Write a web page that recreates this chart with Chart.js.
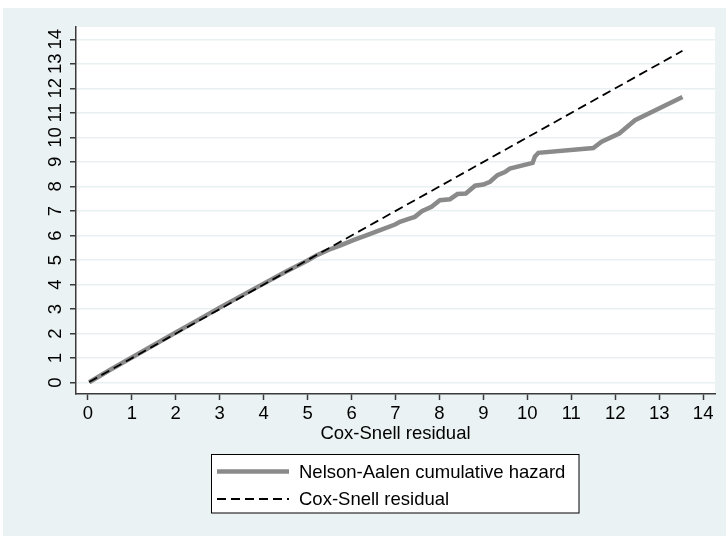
<!DOCTYPE html>
<html>
<head>
<meta charset="utf-8">
<script src="https://cdn.jsdelivr.net/npm/chart.js@4"></script>
<style>
  html, body { margin:0; padding:0; background:#fff; }
  canvas { display:block; }
</style>
</head>
<body>
<canvas id="coxsnell" width="726" height="536"></canvas>
<script>
// ── DADOS ─────────────────────────────────────────────────────────────
const naX = [0.03, 0.5, 1, 1.5, 2, 2.5, 3, 3.5, 4, 4.5, 5.0, 5.21, 5.47, 5.75, 6.04, 6.35, 6.65,
             6.99, 7.10, 7.30, 7.44, 7.60, 7.82, 8.01, 8.24, 8.41, 8.60, 8.81, 9.00, 9.15, 9.32,
             9.49, 9.60, 10.12, 10.17, 10.25, 11.50, 11.69, 12.09, 12.45, 13.53];
const naY = [0.02, 0.52, 1.03, 1.54, 2.05, 2.55, 3.06, 3.55, 4.04, 4.52, 4.98, 5.20, 5.41, 5.60, 5.81, 6.02, 6.22,
             6.45, 6.56, 6.68, 6.76, 6.99, 7.17, 7.44, 7.48, 7.69, 7.71, 8.03, 8.08, 8.19, 8.46,
             8.59, 8.73, 8.96, 9.21, 9.37, 9.57, 9.82, 10.16, 10.70, 11.65];
const csX = [0.03, 13.53];
const csY = [0.03, 13.53];
const xTicks = [0, 1, 2, 3, 4, 5, 6, 7, 8, 9, 10, 11, 12, 13, 14];
const yTicks = [0, 1, 2, 3, 4, 5, 6, 7, 8, 9, 10, 11, 12, 13, 14];
const labels = ['Nelson-Aalen cumulative hazard', 'Cox-Snell residual'];

const C = {
  bg:    '#EAF2F3',
  grid:  '#E8F0F2',
  axis:  '#3a3a3a',
  gray:  '#8a8a8a',
  black: '#000000',
};
const FONT = '"Liberation Sans", Arial, sans-serif';

const pts = (xs, ys) => xs.map((x, i) => ({ x, y: ys[i] }));

// fundo estilo Stata
const bgPlugin = {
  id: 'bg',
  beforeDraw(chart) {
    const { ctx, chartArea: a, width, height } = chart;
    ctx.save();
    ctx.fillStyle = '#fff';
    ctx.fillRect(0, 0, width, height);
    ctx.fillStyle = C.bg;
    ctx.fillRect(3, 8, width - 3, height - 8);
    ctx.fillStyle = '#fff';
    ctx.fillRect(a.left, a.top, a.right - a.left, a.bottom - a.top);
    ctx.restore();
  },
};

// rótulos do eixo y girados
const yLabels = {
  id: 'yLabels',
  afterDraw(chart) {
    const { ctx, scales: { y } } = chart;
    ctx.save();
    ctx.fillStyle = C.black;
    ctx.font = `18.5px ${FONT}`;
    ctx.textAlign = 'center';
    ctx.textBaseline = 'middle';
    y.ticks.forEach(t => {
      ctx.save();
      ctx.translate(55, y.getPixelForValue(t.value));
      ctx.rotate(-Math.PI / 2);
      ctx.fillText(String(t.value), 0, 1);
      ctx.restore();
    });
    ctx.restore();
  },
};

// legenda com caixa
const boxLegend = {
  id: 'boxLegend',
  afterDraw(chart) {
    const { ctx } = chart;
    const bx = 211.5, by = 454.5, bw = 367.5, bh = 58.5;
    ctx.save();
    ctx.fillStyle = '#fff';
    ctx.fillRect(bx, by, bw, bh);
    ctx.strokeStyle = '#000';
    ctx.lineWidth = 1;
    ctx.strokeRect(bx, by, bw, bh);
    ctx.font = `18.5px ${FONT}`;
    ctx.textBaseline = 'middle';
    ctx.fillStyle = C.black;
    const rows = [471.5, 499];
    chart.data.datasets.forEach((ds, i) => {
      ctx.beginPath();
      ctx.strokeStyle = ds.borderColor;
      ctx.lineWidth = ds.borderWidth;
      ctx.setLineDash(ds.borderDash || []);
      ctx.moveTo(217, rows[i]);
      ctx.lineTo(289, rows[i]);
      ctx.stroke();
      ctx.setLineDash([]);
      ctx.fillText(ds.label, 299, rows[i] + 1);
    });
    ctx.restore();
  },
};

new Chart(document.getElementById('coxsnell').getContext('2d'), {
  type: 'scatter',
  data: {
    datasets: [
      { label: labels[0], data: pts(naX, naY), showLine: true, borderColor: C.gray, borderWidth: 4.5,
        pointRadius: 0, fill: false, tension: 0, order: 1 },
      { label: labels[1], data: pts(csX, csY), showLine: true, borderColor: C.black, borderWidth: 1.8,
        borderDash: [9, 5], pointRadius: 0, fill: false, tension: 0, order: 0 },
    ],
  },
  options: {
    responsive: false, animation: false, devicePixelRatio: 1,
    layout: { padding: { left: 0, right: 11, top: 27, bottom: 93 } },
    plugins: { legend: { display: false }, tooltip: { enabled: false } },
    scales: {
      x: {
        type: 'linear', min: -0.27, max: 14.27,
        afterBuildTicks: s => { s.ticks = xTicks.map(v => ({ value: v })); },
        afterFit: s => { s.height = 49; },
        border: { color: C.axis, width: 1.5 },
        grid: { drawOnChartArea: false, tickColor: C.axis, tickLength: 6, tickWidth: 1.5 },
        ticks: { font: { size: 18.5, family: FONT, lineHeight: 1 }, color: C.black, padding: 5, maxRotation: 0 },
        title: { display: true, text: 'Cox-Snell residual', color: C.black,
                 font: { size: 18.5, family: FONT, lineHeight: 1 }, padding: { top: 0, bottom: 0 } },
      },
      y: {
        type: 'linear', min: -0.46, max: 14.5,
        afterBuildTicks: s => { s.ticks = yTicks.map(v => ({ value: v })); },
        afterFit: s => { s.width = 76; },
        border: { color: C.axis, width: 1.5 },
        grid: { color: C.grid, lineWidth: 1.5, tickColor: C.axis, tickLength: 6, tickWidth: 1.5 },
        ticks: { display: false },
      },
    },
  },
  plugins: [bgPlugin, yLabels, boxLegend],
});
</script>
</body>
</html>
